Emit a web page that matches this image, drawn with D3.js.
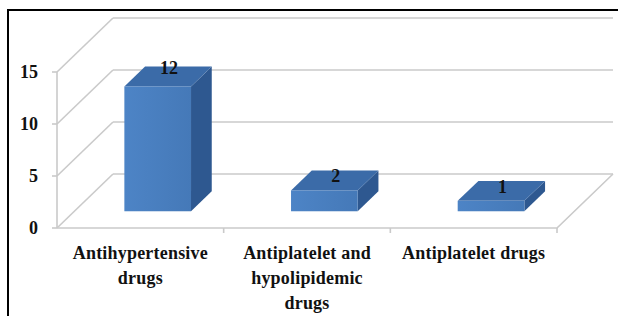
<!DOCTYPE html>
<html lang="en">
<head>
  <meta charset="utf-8">
  <script src="https://d3js.org/d3.v7.min.js"></script>
  <style>
    html, body { margin: 0; padding: 0; background: #fff; }
    svg text { font-family: "Liberation Serif", "Times New Roman", serif; font-weight: bold; fill: #111; }
  </style>
</head>
<body>
  <div id="chart"></div>
  <script>
    var categories = ["Antihypertensive drugs", "Antiplatelet and hypolipidemic drugs", "Antiplatelet drugs"];
    var counts = [12, 2, 1];
    var yTicks = [0, 5, 10, 15];

    var width = 618;
    var height = 316;

    // 3d look: offset of the back wall, and where the bars sit in the depth
    var depthX = 56, depthY = -54;
    var barFront = 0.31, barDepth = 0.37;

    var svg = d3.select('#chart')
      .append('svg')
      .attr('width', width)
      .attr('height', height);

    var x = d3.scaleBand()
      .domain(categories)
      .range([57, 557])
      .paddingInner(0);

    var y = d3.scaleLinear()
      .domain([0, 15])
      .range([228, 72]);

    var bw = x.bandwidth();
    var grid = svg.append('g')
      .attr('stroke', '#cacaca')
      .attr('stroke-width', 1.6)
      .attr('fill', 'none');

    // back wall lines + left wall diagonals
    yTicks.forEach(function (t) {
      grid.append('line')
        .attr('x1', x.range()[0] + depthX).attr('x2', x.range()[1] + depthX)
        .attr('y1', y(t) + depthY).attr('y2', y(t) + depthY);
      grid.append('line')
        .attr('x1', x.range()[0]).attr('x2', x.range()[0] + depthX)
        .attr('y1', y(t)).attr('y2', y(t) + depthY);
      grid.append('line')
        .attr('x1', x.range()[0] - 5).attr('x2', x.range()[0])
        .attr('y1', y(t)).attr('y2', y(t));
    });

    // y axis line and floor
    grid.append('line')
      .attr('x1', x.range()[0]).attr('x2', x.range()[0])
      .attr('y1', y(15)).attr('y2', y(0));
    grid.append('path')
      .attr('d', 'M' + x.range()[0] + ',' + y(0) +
        'H' + x.range()[1] +
        'L' + (x.range()[1] + depthX) + ',' + (y(0) + depthY));

    // category ticks
    categories.forEach(function (c, i) {
      if (i == 0) return;
      grid.append('line')
        .attr('x1', x(c)).attr('x2', x(c))
        .attr('y1', y(0)).attr('y2', y(0) + 5);
    });
    grid.append('line')
      .attr('x1', x.range()[1]).attr('x2', x.range()[1])
      .attr('y1', y(0)).attr('y2', y(0) + 5);

    // y labels
    svg.selectAll('.ylab')
      .data(yTicks)
      .enter()
      .append('text')
      .attr('class', 'ylab')
      .attr('x', 38)
      .attr('y', function (d) { return y(d) + 6; })
      .attr('text-anchor', 'end')
      .style('font-size', '18px')
      .text(function (d) { return d; });

    var defs = svg.append('defs');
    var grad = defs.append('linearGradient').attr('id', 'front');
    grad.append('stop').attr('offset', '0%').attr('stop-color', '#4d84c6');
    grad.append('stop').attr('offset', '100%').attr('stop-color', '#4579b8');

    var fdx = depthX * barFront, fdy = depthY * barFront;
    var bdx = depthX * barDepth, bdy = depthY * barDepth;

    var bars = svg.selectAll('.bar')
      .data(categories.map(function (c, i) { return { cat: c, value: counts[i] }; }))
      .enter()
      .append('g')
      .attr('class', 'bar')
      .each(function (d) {
        var g = d3.select(this);
        var x0 = x(d.cat) + bw * 0.3 + fdx;
        var x1 = x0 + bw * 0.4;
        var yb = y(0) + fdy;
        var yt = y(d.value) + fdy;
        var pts = function (a) { return a.map(function (p) { return p.join(','); }).join(' '); };

        g.append('polygon')
          .attr('points', pts([[x1, yt], [x1 + bdx, yt + bdy], [x1 + bdx, yb + bdy], [x1, yb]]))
          .attr('fill', '#2e5890');
        g.append('polygon')
          .attr('points', pts([[x0, yt], [x0 + bdx, yt + bdy], [x1 + bdx, yt + bdy], [x1, yt]]))
          .attr('fill', '#3b6ba8');
        g.append('rect')
          .attr('x', x0)
          .attr('y', yt)
          .attr('width', x1 - x0)
          .attr('height', yb - yt)
          .attr('fill', 'url(#front)');

        g.append('text')
          .attr('x', (x0 + x1) / 2 + bdx / 2 + 1)
          .attr('y', yt + bdy / 2 + (d.value > 5 ? -2 : 2))
          .attr('text-anchor', 'middle')
          .style('font-size', '18px')
          .text(d.value);
      });

    // category labels, wrapped to the band width
    var labels = svg.selectAll('.xlab')
      .data(categories)
      .enter()
      .append('text')
      .attr('class', 'xlab')
      .attr('text-anchor', 'middle')
      .style('font-size', '18px')
      .style('letter-spacing', '0.2px')
      .attr('transform', function (d) { return 'translate(' + (x(d) + bw / 2) + ',259)'; });

    labels.each(function (d) {
      var t = d3.select(this);
      var words = d.split(' ');
      var lines = [], line = [];
      var probe = t.append('tspan');
      words.forEach(function (w) {
        var test = line.concat([w]).join(' ');
        probe.text(test);
        if (line.length && probe.node().getComputedTextLength() > 152) {
          lines.push(line.join(' '));
          line = [w];
        } else {
          line.push(w);
        }
      });
      lines.push(line.join(' '));
      probe.remove();
      lines.forEach(function (l, i) {
        t.append('tspan')
          .attr('x', 0)
          .attr('y', i * 25)
          .text(l);
      });
    });

    // frame
    svg.append('path')
      .attr('d', 'M8,' + height + 'V10H' + width)
      .attr('fill', 'none')
      .attr('stroke', '#000')
      .attr('stroke-width', 2);
  </script>
</body>
</html>
